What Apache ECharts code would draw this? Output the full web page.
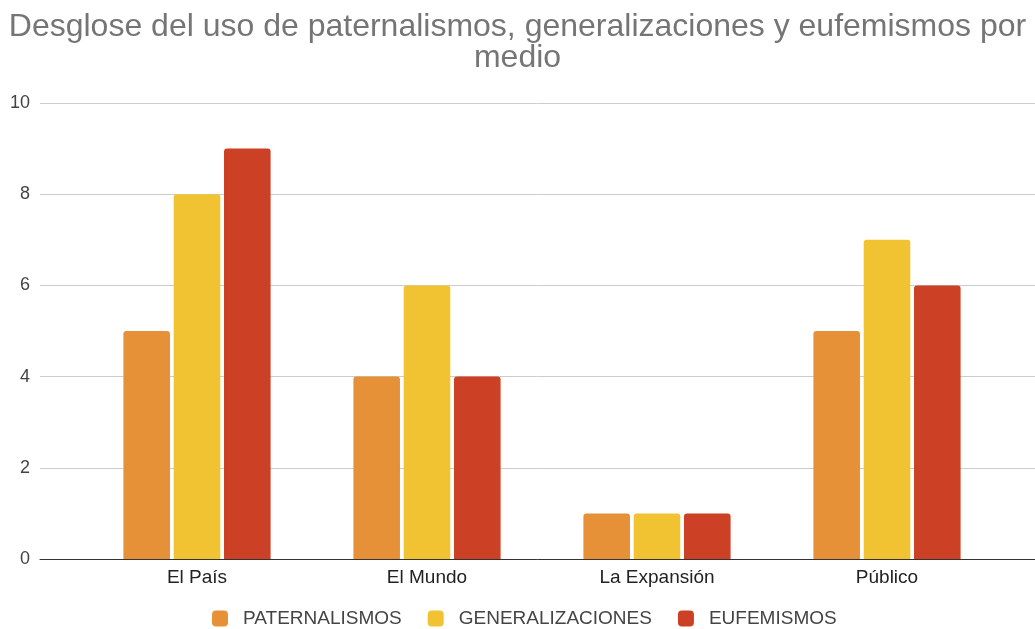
<!DOCTYPE html>
<html>
<head>
<meta charset="utf-8">
<script src="https://cdn.jsdelivr.net/npm/echarts@6/dist/echarts.min.js"></script>
<style>
  html, body { margin: 0; padding: 0; background: #fff; }
  #chart { width: 1035px; height: 629px; }
</style>
</head>
<body>
<div id="chart"></div>
<script>
// datos
const medios = ['El País', 'El Mundo', 'La Expansión', 'Público']
const paternalismos = [5, 4, 1, 5]
const generalizaciones = [8, 6, 1, 7]
const eufemismos = [9, 4, 1, 6]
const colores = ['#e69138', '#f1c232', '#cc4125']

const chart = echarts.init(document.getElementById('chart'))

const barra = (name, data, color) => ({
  name: name,
  type: 'bar',
  xAxisIndex: 1,
  yAxisIndex: 1,
  data: data,
  barGap: '8%',
  barCategoryGap: '36%',
  itemStyle: { color: color, borderRadius: [3, 3, 0, 0] },
  emphasis: { disabled: true }
})

chart.setOption({
  animation: false,
  textStyle: { fontFamily: '"Liberation Sans", Arial, sans-serif' },
  title: {
    text: 'Desglose del uso de paternalismos, generalizaciones y eufemismos por\nmedio',
    left: 'center',
    top: 7,
    textStyle: { fontSize: 32, fontWeight: 'normal', color: '#757575', lineHeight: 31 }
  },
  legend: {
    left: 207,
    top: 604,
    itemWidth: 16,
    itemHeight: 16,
    itemGap: 26,
    icon: 'roundRect',
    textStyle: { fontSize: 19, color: '#444', padding: [0, 0, 0, 10] },
    data: ['PATERNALISMOS', 'GENERALIZACIONES', 'EUFEMISMOS']
  },
  grid: [
    { left: 40, right: 0, top: 103, bottom: 70 },
    { left: 82, right: 33, top: 103, bottom: 70 }
  ],
  xAxis: [
    {
      type: 'value', gridIndex: 0, min: 0, max: 1,
      axisLine: { show: true, onZero: false, lineStyle: { color: '#333', width: 1 } },
      axisTick: { show: false }, axisLabel: { show: false }, splitLine: { show: false }
    },
    {
      type: 'category', gridIndex: 1, data: medios,
      axisLine: { show: false }, axisTick: { show: false },
      axisLabel: { fontSize: 19, color: '#222', margin: 9 }
    }
  ],
  yAxis: [
    {
      type: 'value', gridIndex: 0, min: 0, max: 10, interval: 2,
      axisLine: { show: false }, axisTick: { show: false },
      axisLabel: { fontSize: 18, color: '#444', margin: 10 },
      splitLine: { lineStyle: { color: '#cccccc' } }
    },
    { type: 'value', gridIndex: 1, min: 0, max: 10, show: false }
  ],
  series: [
    barra('PATERNALISMOS', paternalismos, colores[0]),
    barra('GENERALIZACIONES', generalizaciones, colores[1]),
    barra('EUFEMISMOS', eufemismos, colores[2])
  ]
})
</script>
</body>
</html>
